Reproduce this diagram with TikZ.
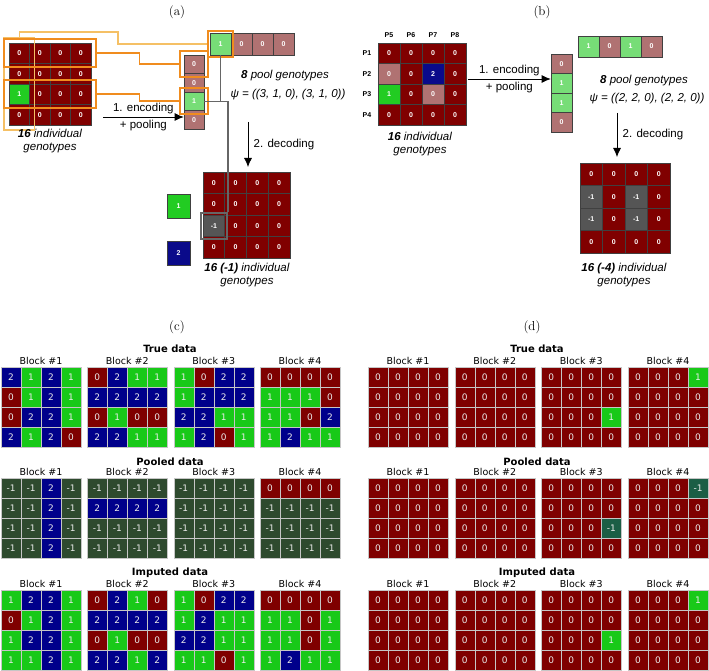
\documentclass[tikz,border=0pt]{standalone}
\usepackage{fontspec}
\newfontfamily\libsans{Liberation Sans}
\newfontfamily\djsans{DejaVu Sans}
\usetikzlibrary{calc, fit, arrows.meta}

\definecolor{cr}{HTML}{800000}
\definecolor{cg}{HTML}{22CC22}
\definecolor{cb}{HTML}{0A0A8A}
\definecolor{ck}{HTML}{555555}
\definecolor{cpr}{HTML}{B07272}
\definecolor{cpg}{HTML}{77DD77}
\definecolor{gred}{HTML}{7F0000}
\definecolor{ggreen}{HTML}{18C918}
\definecolor{gblue}{HTML}{00008B}
\definecolor{gnegc}{HTML}{2E4A2E}
\definecolor{gnegd}{HTML}{1B5E45}
\definecolor{borange}{HTML}{F08C1E}
\definecolor{lorange}{HTML}{F5C065}

% small grids of the top panels: name, x0, y0, ncols, w, h, colour/text list
\newcommand\topgrid[7]{%
  \foreach \c/\t [count=\i from 0] in {#7}{
    \pgfmathtruncatemacro\cx{mod(\i,#4)}
    \pgfmathtruncatemacro\cy{div(\i,#4)}
    \node[pcell, minimum width=#5, minimum height=#6, fill=c\c] (#1-\i)
      at ({#2+#5/2+#5*\cx},{#3+#6/2+#6*\cy}) {\t};
  }}

% 4x4 genotype blocks of the bottom panels: name, x0, y0, label, values
\newcommand\blockgrid[5]{%
  \node[blocklbl] (#1-lbl) at (#2+40,#3-6) {Block \##4};
  \foreach \v [count=\i from 0] in {#5}{
    \pgfmathtruncatemacro\cx{mod(\i,4)}
    \pgfmathtruncatemacro\cy{div(\i,4)}
    \ifnum\v=0 \def\cc{gred}\fi
    \ifnum\v=1 \def\cc{ggreen}\fi
    \ifnum\v=2 \def\cc{gblue}\fi
    \ifnum\v<0 \def\cc{\negcol}\fi
    \node[cell, fill=\cc] (#1-\i) at ({#2+10+20*\cx},{#3+10+20*\cy}) {\v};
  }}

\begin{document}
\begin{tikzpicture}[x=1pt, y=-1pt,
    pcell/.style={draw=black!75, line width=0.6pt, inner sep=0pt, text=white,
        font=\libsans\bfseries\fontsize{7}{8}\selectfont},
    cell/.style={draw=gray!45, line width=0.4pt, minimum size=20pt, inner sep=0pt,
        text=white!92!black, font=\djsans\fontsize{9}{10}\selectfont},
    blocklbl/.style={font=\djsans\fontsize{9.5}{10}\selectfont},
    datattl/.style={font=\djsans\bfseries\fontsize{10}{11}\selectfont},
    txt/.style={font=\libsans\fontsize{11.5}{13}\selectfont, align=center},
    plbl/.style={font=\fontsize{13}{14}\selectfont},
    obox/.style={draw=borange, line width=2pt, inner sep=3.5pt},
    lbox/.style={draw=lorange, line width=1.6pt, inner sep=3.5pt},
    oline/.style={draw=borange, line width=1.6pt},
    lline/.style={draw=lorange, line width=1.3pt},
    gline/.style={draw=black!60, line width=1.3pt},
    arr/.style={-{Latex[length=9pt, width=8pt]}, line width=0.8pt}]
    \useasboundingbox (0,0) rectangle (709,671);

    % (a) -----------------------------------------------
    \node[plbl] (pa) at (177,12) {(a)};
    \topgrid{ia}{9}{43}{4}{20.5}{20.5}{r/0,r/0,r/0,r/0, r/0,r/0,r/0,r/0,
        g/1,r/0,r/0,r/0, r/0,r/0,r/0,r/0}
    \topgrid{pca}{184}{55}{1}{20}{18.5}{pr/0,pr/0,pg/1,pr/0}
    \topgrid{pra}{210}{33}{4}{21}{22}{pg/1,pr/0,pr/0,pr/0}
    \topgrid{da}{203}{172}{4}{21.75}{21.5}{r/0,r/0,r/0,r/0, r/0,r/0,r/0,r/0,
        k/-1,r/0,r/0,r/0, r/0,r/0,r/0,r/0}
    \node[pcell, minimum width=23, minimum height=24, fill=cg] (lg) at (178.5,206) {1};
    \node[pcell, minimum width=23, minimum height=24, fill=cb] (lb) at (178.5,253) {2};

    % pooling boxes and links
    \node[lbox, fit=(ia-0)(ia-12), inner sep=4.5pt] (colbox) {};
    \node[obox, fit=(ia-0)(ia-3), inner xsep=5pt] (row1) {};
    \node[obox, fit=(ia-8)(ia-11), inner xsep=5pt] (row3) {};
    \node[obox, fit=(pca-0)] (pbox1) {};
    \node[obox, fit=(pca-2)] (pbox3) {};
    \node[obox, fit=(pra-0), inner sep=2pt] (prbox) {};
    \coordinate (ka) at (118,32);
    \draw[lline] (colbox.north) |- (ka) |- (prbox.west);
    \draw[oline] (row1.east) -- ++(42,0) |- (pbox1.west);
    \draw[oline] (row3.east) -- ++(42,0) |- (pbox3.west);

    % decoding trace
    \node[draw=black!60, line width=1.6pt, inner sep=2pt, fit=(da-8)] (dbox) {};
    \draw[gline] (pra-0.south) -- (pra-0.south |- pca-2.east);
    \draw[gline] (pca-2.east) -| (dbox.north east);

    \coordinate (ea) at (103,117);
    \draw[arr] (ea) -- (ea -| pca-3.west)
        node[midway, above=-1pt, txt] {1. encoding}
        node[midway, below=-1pt, txt] {+ pooling};
    \coordinate (dsa) at (248,122);
    \draw[arr] (dsa) -- (248,167) node[midway, right=2pt, txt] {2. decoding};

    \node[txt] (ta1) at (50,141) {\textbf{\textit{16}} \textit{individual}\\\textit{genotypes}};
    \node[txt] (ta2) at (285,76) {\textbf{\textit{8}} \textit{pool genotypes}};
    \node[txt] (ta3) at (288,95) {\textit{ψ = ((3, 1, 0), (3, 1, 0))}};
    \node[txt] (ta4) at (247,275) {\textbf{\textit{16 (-1)}} \textit{individual}\\\textit{genotypes}};

    % (b) -----------------------------------------------
    \node[plbl] (pb) at (542,12) {(b)};
    \topgrid{ib}{378}{43}{4}{22}{20.5}{r/0,r/0,r/0,r/0, pr/0,r/0,b/2,r/0,
        g/1,r/0,pr/0,r/0, r/0,r/0,r/0,r/0}
    \foreach \n [count=\k from 0] in {5,...,8}
        \node[font=\libsans\bfseries\fontsize{7}{8}\selectfont] (cp\n) at (389+22*\k,35) {P\n};
    \foreach \n [count=\k from 0] in {1,...,4}
        \node[font=\libsans\bfseries\fontsize{7}{8}\selectfont] (rp\n) at (367,53.25+20.5*\k) {P\n};
    \topgrid{pcb}{551}{54}{1}{21}{19.5}{pr/0,pg/1,pg/1,pr/0}
    \topgrid{prb}{578}{36}{4}{21}{21}{pg/1,pr/0,pg/1,pr/0}
    \topgrid{db}{580}{163}{4}{22.5}{22.5}{r/0,r/0,r/0,r/0, k/-1,r/0,k/-1,r/0,
        k/-1,r/0,k/-1,r/0, r/0,r/0,r/0,r/0}

    \coordinate (eb) at (468,79);
    \draw[arr] (eb) -- (eb -| pcb-1.west)
        node[midway, above=-1pt, txt] {1. encoding}
        node[midway, below=-1pt, txt] {+ pooling};
    \coordinate (dsb) at (617,113);
    \draw[arr] (dsb) -- (617,157) node[midway, right=2pt, txt] {2. decoding};

    \node[txt] (tb1) at (420,144) {\textbf{\textit{16}} \textit{individual}\\\textit{genotypes}};
    \node[txt] (tb2) at (644,81) {\textbf{\textit{8}} \textit{pool genotypes}};
    \node[txt] (tb3) at (647,99) {\textit{ψ = ((2, 2, 0), (2, 2, 0))}};
    \node[txt] (tb4) at (624,275) {\textbf{\textit{16 (-4)}} \textit{individual}\\\textit{genotypes}};

    % (c) -----------------------------------------------
    \node[plbl] (pc) at (177,327) {(c)};
    \def\negcol{gnegc}
    \node[datattl] (ct) at (170,349) {True data};
    \blockgrid{ct1}{1}{367}{1}{2,1,2,1, 0,1,2,1, 0,2,2,1, 2,1,2,0}
    \blockgrid{ct2}{87.3}{367}{2}{0,2,1,1, 2,2,2,2, 0,1,0,0, 2,2,1,1}
    \blockgrid{ct3}{173.7}{367}{3}{1,0,2,2, 1,2,2,2, 2,2,1,1, 1,2,0,1}
    \blockgrid{ct4}{260}{367}{4}{0,0,0,0, 1,1,1,0, 1,1,0,2, 1,2,1,1}
    \node[datattl] (cp) at (170,462) {Pooled data};
    \blockgrid{cp1}{1}{478}{1}{-1,-1,2,-1, -1,-1,2,-1, -1,-1,2,-1, -1,-1,2,-1}
    \blockgrid{cp2}{87.3}{478}{2}{-1,-1,-1,-1, 2,2,2,2, -1,-1,-1,-1, -1,-1,-1,-1}
    \blockgrid{cp3}{173.7}{478}{3}{-1,-1,-1,-1, -1,-1,-1,-1, -1,-1,-1,-1, -1,-1,-1,-1}
    \blockgrid{cp4}{260}{478}{4}{0,0,0,0, -1,-1,-1,-1, -1,-1,-1,-1, -1,-1,-1,-1}
    \node[datattl] (ci) at (170,573) {Imputed data};
    \blockgrid{ci1}{1}{590}{1}{1,2,2,1, 0,1,2,1, 1,2,2,1, 1,1,2,1}
    \blockgrid{ci2}{87.3}{590}{2}{0,2,1,0, 2,2,2,2, 0,1,0,0, 2,2,1,2}
    \blockgrid{ci3}{173.7}{590}{3}{1,0,2,2, 1,2,1,1, 2,2,1,1, 1,1,0,1}
    \blockgrid{ci4}{260}{590}{4}{0,0,0,0, 1,1,0,1, 1,1,0,1, 1,2,1,1}

    % (d) -----------------------------------------------
    \node[plbl] (pd) at (532,327) {(d)};
    \def\negcol{gnegd}
    \node[datattl] (dt) at (537,349) {True data};
    \blockgrid{dt1}{368}{367}{1}{0,0,0,0, 0,0,0,0, 0,0,0,0, 0,0,0,0}
    \blockgrid{dt2}{454.7}{367}{2}{0,0,0,0, 0,0,0,0, 0,0,0,0, 0,0,0,0}
    \blockgrid{dt3}{541.3}{367}{3}{0,0,0,0, 0,0,0,0, 0,0,0,1, 0,0,0,0}
    \blockgrid{dt4}{628}{367}{4}{0,0,0,1, 0,0,0,0, 0,0,0,0, 0,0,0,0}
    \node[datattl] (dp) at (537,462) {Pooled data};
    \blockgrid{dp1}{368}{478}{1}{0,0,0,0, 0,0,0,0, 0,0,0,0, 0,0,0,0}
    \blockgrid{dp2}{454.7}{478}{2}{0,0,0,0, 0,0,0,0, 0,0,0,0, 0,0,0,0}
    \blockgrid{dp3}{541.3}{478}{3}{0,0,0,0, 0,0,0,0, 0,0,0,-1, 0,0,0,0}
    \blockgrid{dp4}{628}{478}{4}{0,0,0,-1, 0,0,0,0, 0,0,0,0, 0,0,0,0}
    \node[datattl] (di) at (537,573) {Imputed data};
    \blockgrid{di1}{368}{590}{1}{0,0,0,0, 0,0,0,0, 0,0,0,0, 0,0,0,0}
    \blockgrid{di2}{454.7}{590}{2}{0,0,0,0, 0,0,0,0, 0,0,0,0, 0,0,0,0}
    \blockgrid{di3}{541.3}{590}{3}{0,0,0,0, 0,0,0,0, 0,0,0,1, 0,0,0,0}
    \blockgrid{di4}{628}{590}{4}{0,0,0,1, 0,0,0,0, 0,0,0,0, 0,0,0,0}
\end{tikzpicture}
\end{document}
